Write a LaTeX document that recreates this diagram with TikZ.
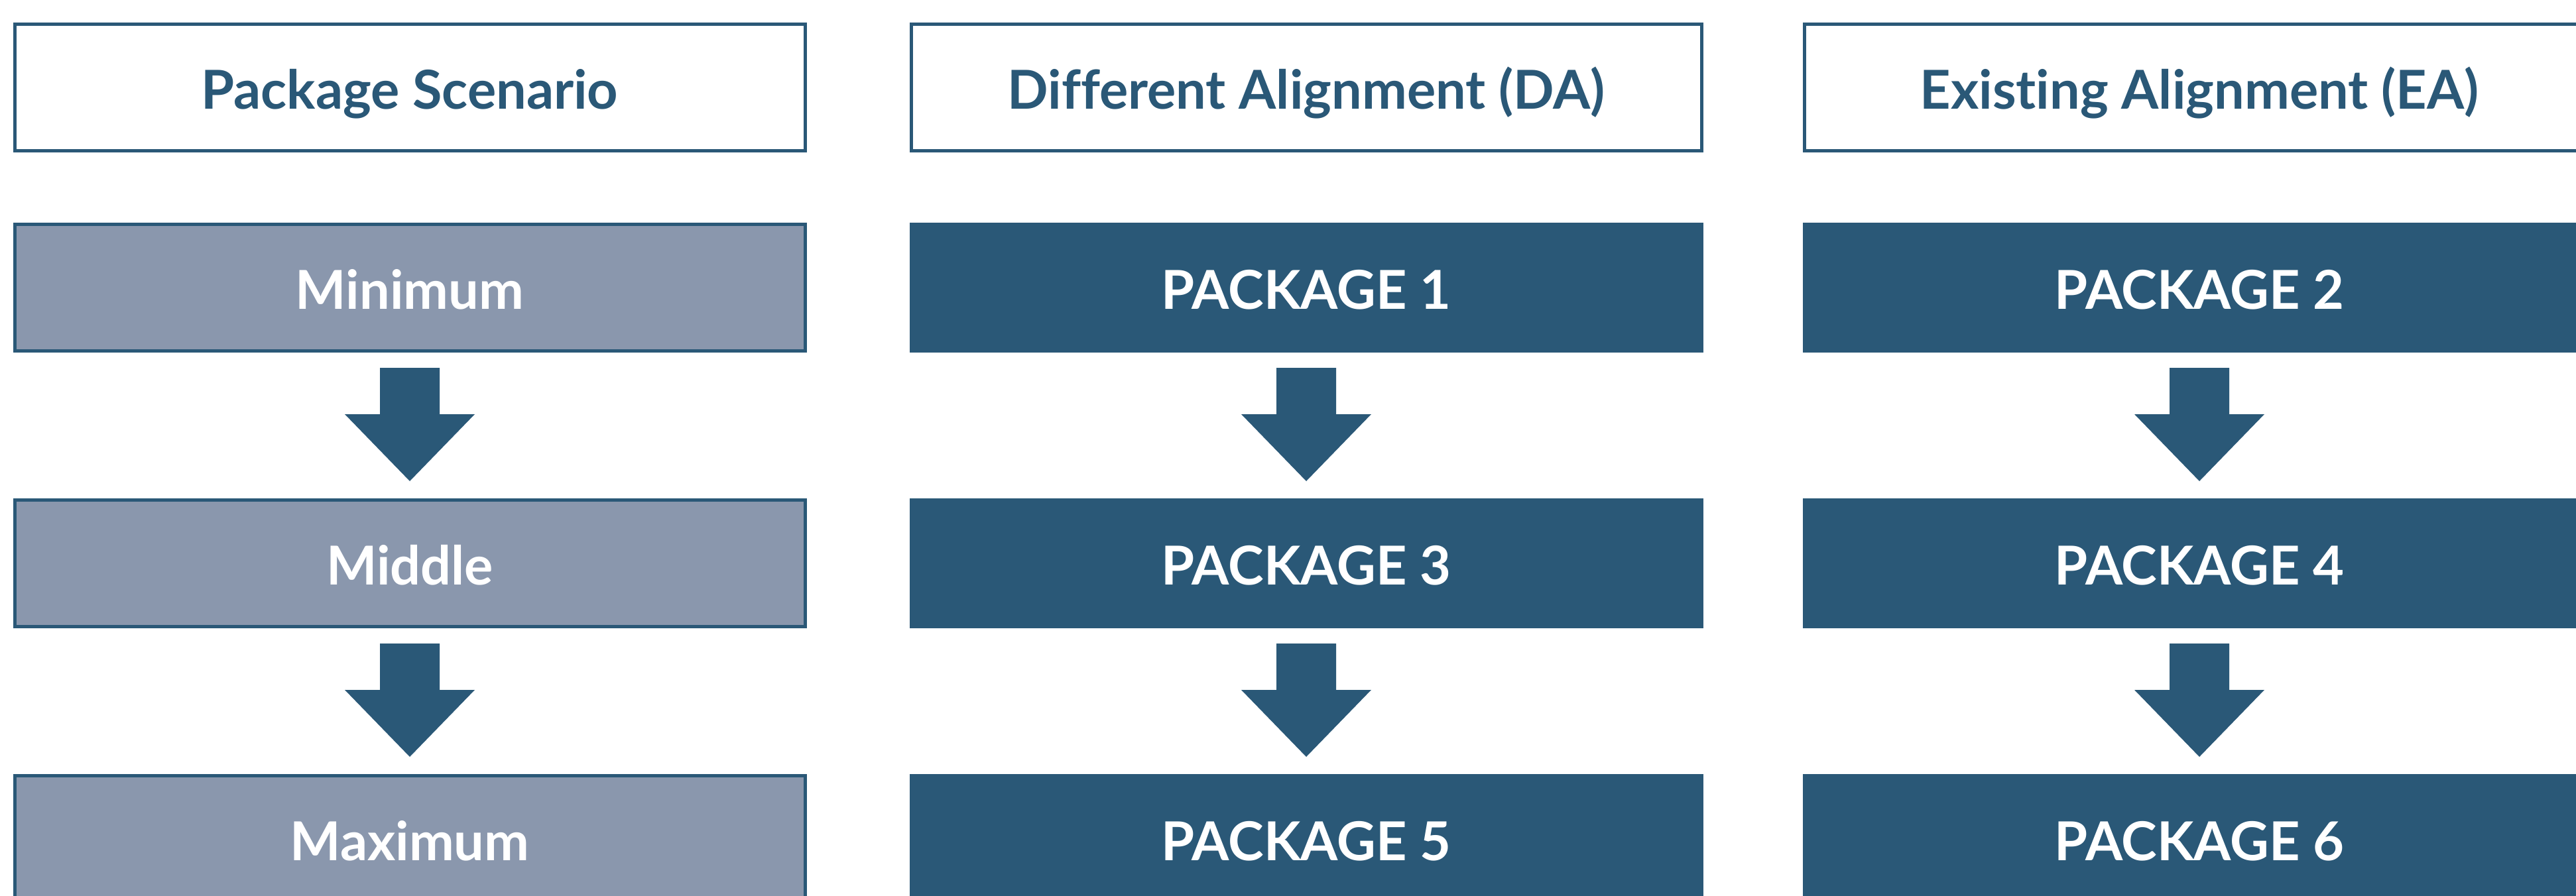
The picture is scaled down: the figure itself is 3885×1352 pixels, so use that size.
\documentclass[tikz,border=0pt]{standalone}
\usepackage{fontspec}
\setmainfont{Lato}[Ligatures=NoCommon]
\usetikzlibrary{calc}

\definecolor{pkgblue}{HTML}{2A5877}
\definecolor{pkggray}{HTML}{8A97AD}

\tikzset{
  headbox/.style={draw=pkgblue, line width=5pt, fill=white, text=pkgblue,
    minimum width=1192pt, minimum height=191pt, text height=65pt, text depth=0pt,
    font=\fontsize{81}{97}\selectfont\bfseries},
  scenbox/.style={headbox, fill=pkggray, text=white},
  pkgbox/.style={headbox, fill=pkgblue, text=white},
  downarrow/.style={fill=pkgblue}
}

\begin{document}
\begin{tikzpicture}[x=1pt, y=-1pt]
  \useasboundingbox (0,0) rectangle (3885,1352);

  % column heads
  \node[headbox] (scen) at (618,132) {Package Scenario};
  \node[headbox] (da) at (1970,132) {Different Alignment (DA)};
  \node[headbox] (ea) at (3317,132) {Existing Alignment (EA)};

  % scenarios
  \node[scenbox] (min) at (618,434) {Minimum};
  \node[scenbox] (mid) at (618,850) {Middle};
  \node[scenbox] (max) at (618,1266) {Maximum};

  % packages
  \node[pkgbox] (p1) at (1970,434) {PACKAGE 1};
  \node[pkgbox] (p3) at (1970,850) {PACKAGE 3};
  \node[pkgbox] (p5) at (1970,1266) {PACKAGE 5};
  \node[pkgbox] (p2) at (3317,434) {PACKAGE 2};
  \node[pkgbox] (p4) at (3317,850) {PACKAGE 4};
  \node[pkgbox] (p6) at (3317,1266) {PACKAGE 6};

  % block arrows
  \foreach \a/\b in {min/mid, mid/max, p1/p3, p3/p5, p2/p4, p4/p6}
    \fill[downarrow] ($(\a.south)+(-45,23)$) -- ($(\a.south)+(45,23)$)
      -- ($(\a.south)+(45,93)$) -- ($(\a.south)+(98,93)$)
      -- ($(\b.north)+(0,-26)$)
      -- ($(\a.south)+(-98,93)$) -- ($(\a.south)+(-45,93)$) -- cycle;
\end{tikzpicture}
\end{document}
